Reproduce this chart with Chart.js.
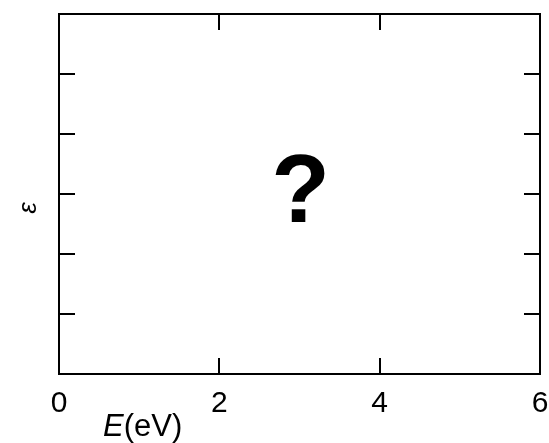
<!DOCTYPE html>
<html>
<head>
<meta charset="utf-8">
<script src="https://cdn.jsdelivr.net/npm/chart.js@4/dist/chart.umd.min.js"></script>
<style>
  html, body { margin: 0; padding: 0; background: #fff; }
  #wrap { width: 549px; height: 443px; }
</style>
</head>
<body>
<div id="wrap"><canvas id="plot" width="549" height="443"></canvas></div>
<script>
// axis ranges and tick values
const xRange = [0, 6];
const yRange = [0, 6];
const xTicks = [0, 2, 4, 6];
const yTicks = [1, 2, 3, 4, 5];
// the unknown curve is shown as a single "?" mark
const markPoints = [{ x: 3, y: 3 }];
const markText = '?';
const xTitleItalic = 'E';
const xTitleRest = '(eV)';
const yTitle = 'ε';

const FONT = "'Liberation Sans', Arial, sans-serif";

// box, inward ticks, titles and the "?" mark
const framePlugin = {
  id: 'frame',
  afterDraw(chart) {
    const ctx = chart.ctx;
    const a = chart.chartArea;
    const xs = chart.scales.x;
    const ys = chart.scales.y;
    const len = 16;

    ctx.save();
    ctx.strokeStyle = '#000';
    ctx.lineWidth = 2;
    ctx.strokeRect(a.left, a.top, a.right - a.left, a.bottom - a.top);

    ctx.beginPath();
    xTicks.forEach(v => {
      if (v <= xRange[0] || v >= xRange[1]) return;
      const px = Math.round(xs.getPixelForValue(v));
      ctx.moveTo(px, a.bottom); ctx.lineTo(px, a.bottom - len);
      ctx.moveTo(px, a.top); ctx.lineTo(px, a.top + len);
    });
    yTicks.forEach(v => {
      const py = Math.round(ys.getPixelForValue(v));
      ctx.moveTo(a.left, py); ctx.lineTo(a.left + len, py);
      ctx.moveTo(a.right, py); ctx.lineTo(a.right - len, py);
    });
    ctx.stroke();

    // x title
    ctx.fillStyle = '#000';
    ctx.textBaseline = 'alphabetic';
    ctx.textAlign = 'left';
    ctx.font = 'italic 31px ' + FONT;
    const ex = 103, ey = 436;
    ctx.fillText(xTitleItalic, ex, ey);
    const w = ctx.measureText(xTitleItalic).width;
    ctx.font = '31px ' + FONT;
    ctx.fillText(xTitleRest, ex + w, ey);

    // y title
    ctx.save();
    ctx.translate(29, 208);
    ctx.rotate(-Math.PI / 2);
    ctx.textAlign = 'center';
    ctx.textBaseline = 'middle';
    ctx.font = 'italic 26px ' + FONT;
    ctx.fillText(yTitle, 0, 0);
    ctx.restore();

    // "?" mark
    ctx.font = 'bold 96px ' + FONT;
    ctx.textAlign = 'center';
    ctx.textBaseline = 'middle';
    markPoints.forEach(p => {
      ctx.fillText(markText, xs.getPixelForValue(p.x) + 1, ys.getPixelForValue(p.y) + 2);
    });
    ctx.restore();
  }
};

const ctx = document.getElementById('plot').getContext('2d');
const chart = new Chart(ctx, {
  type: 'scatter',
  data: {
    datasets: [{
      label: 'mark',
      data: markPoints,
      pointRadius: 0,
      showLine: false
    }]
  },
  options: {
    responsive: false,
    animation: false,
    devicePixelRatio: 1,
    layout: { padding: { top: 14, right: 9, left: 0, bottom: 0 } },
    plugins: {
      legend: { display: false },
      tooltip: { enabled: false }
    },
    scales: {
      x: {
        type: 'linear',
        min: xRange[0],
        max: xRange[1],
        afterBuildTicks: s => { s.ticks = xTicks.map(v => ({ value: v })); },
        ticks: {
          color: '#000',
          padding: 12,
          maxRotation: 0,
          font: { family: FONT, size: 30 }
        },
        grid: { display: false, drawTicks: false },
        border: { display: false },
        afterFit: s => { s.height = 69; s.paddingLeft = 0; s.paddingRight = 0; }
      },
      y: {
        type: 'linear',
        min: yRange[0],
        max: yRange[1],
        afterBuildTicks: s => { s.ticks = yTicks.map(v => ({ value: v })); },
        ticks: { display: false },
        grid: { display: false, drawTicks: false },
        border: { display: false },
        afterFit: s => { s.width = 59; }
      }
    }
  },
  plugins: [framePlugin]
});
</script>
</body>
</html>
